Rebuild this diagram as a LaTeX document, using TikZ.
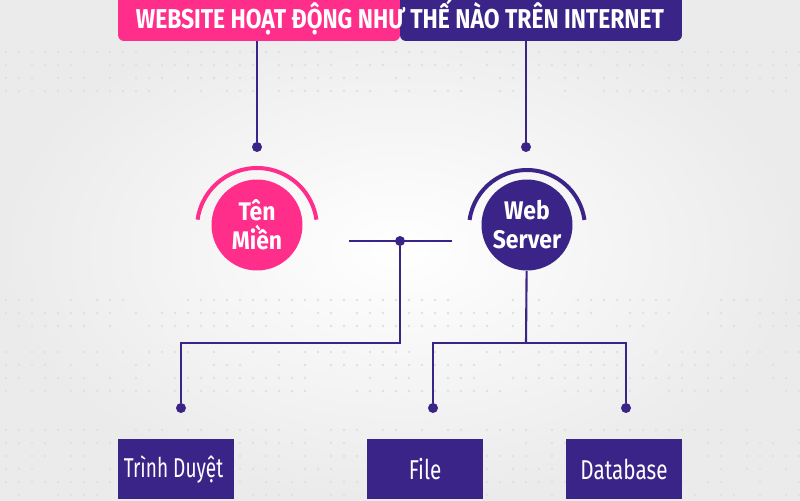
\documentclass[tikz,border=0pt]{standalone}
\usepackage{fontspec}
\setmainfont{Fira Sans}
\usetikzlibrary{positioning, calc}

\definecolor{hong}{HTML}{FF2E8A}
\definecolor{tim}{HTML}{3A2487}
\definecolor{nen}{HTML}{EBEBEB}

\newcommand{\hep}[2]{\scalebox{#1}[1]{#2}}

\begin{document}
\begin{tikzpicture}[
    x=0.02cm, y=-0.02cm,
    line/.style={tim, line width=1.2pt},
    dot/.style={circle, fill=tim, inner sep=0pt, minimum size=0.2cm},
    ball/.style={circle, inner sep=0pt, minimum size=1.82cm, text=white, align=center, font=\bfseries\fontsize{14.5}{16.5}\selectfont},
    halo/.style={line width=0.08cm},
    box/.style={rectangle, fill=tim, text=white, minimum width=2.32cm, minimum height=1.2cm, font=\fontsize{15.5}{18}\selectfont}
]
\useasboundingbox (0,0) rectangle (800,500);
\shade[inner color=white, outer color=nen] (0,0) rectangle (800,500);

% background dots
\pgfmathsetseed{7}
\foreach \yy in {52,65,78,91,300,313,326,352,365,378,391,430,443,456,469,482,495} {
  \foreach \xx in {6,19,...,800} {
    \pgfmathrandominteger{\r}{0}{3}
    \ifnum\r>0 \fill[black!12] (\xx,\yy) circle[radius=1.3]; \fi
  }
}

% title
\node (title) [rectangle, rounded corners=0.12cm, minimum width=11.28cm, minimum height=0.98cm,
    text=white, font=\bfseries\fontsize{15.5}{18}\selectfont,
    path picture={
      \fill[hong] (path picture bounding box.south west) rectangle (path picture bounding box.north);
      \fill[tim] (path picture bounding box.north) rectangle (path picture bounding box.south east);
    }] at (400,16.5) {\raisebox{-2pt}{\hep{0.84}{WEBSITE HOẠT ĐỘNG NHƯ THẾ NÀO TRÊN INTERNET}}};

% circles
\node (domain) [ball, fill=hong] at (257,225) {\hep{0.9}{Tên}\\\hep{0.9}{Miền}};
\node (server) [ball, fill=tim] at (527,225) {\hep{0.9}{Web}\\\hep{0.9}{Server}};

\draw[halo, hong] (257,228) ++(188:60) arc[start angle=188, end angle=352, radius=60];
\draw[halo, tim] (527,228) ++(188:58) arc[start angle=188, end angle=352, radius=58];

% dots
\node (dotA) [dot] at (257,147) {};
\node (dotB) [dot] at (526,147) {};
\node (mid) [dot] at (400,241) {};
\node (browserdot) [dot] at (181,408) {};
\node (filedot) [dot] at (433,408) {};
\node (dbdot) [dot] at (626,408) {};

\coordinate (hl) at (349,241);
\coordinate (hr) at (452,241);
\coordinate (split) at (400,343);
\coordinate (fork) at (526,343);

% boxes
\node (browser) [box] at (176,469) {\hspace*{-0.1cm}\hep{0.7}{Trình Duyệt}};
\node (file) [box] at (425,469) {\hep{0.76}{File}};
\node (db) [box] at (624,469) {\hep{0.76}{Database}};

\draw[line] (title.south -| dotA) -- (dotA);
\draw[line] (title.south -| dotB) -- (dotB);

\draw[line] (hl) -- (hr);
\draw[line] (mid) -- (split) -| (browserdot);

\draw[line] (server) -- (fork);
\draw[line] (filedot) |- (fork) -| (dbdot);

\end{tikzpicture}
\end{document}
